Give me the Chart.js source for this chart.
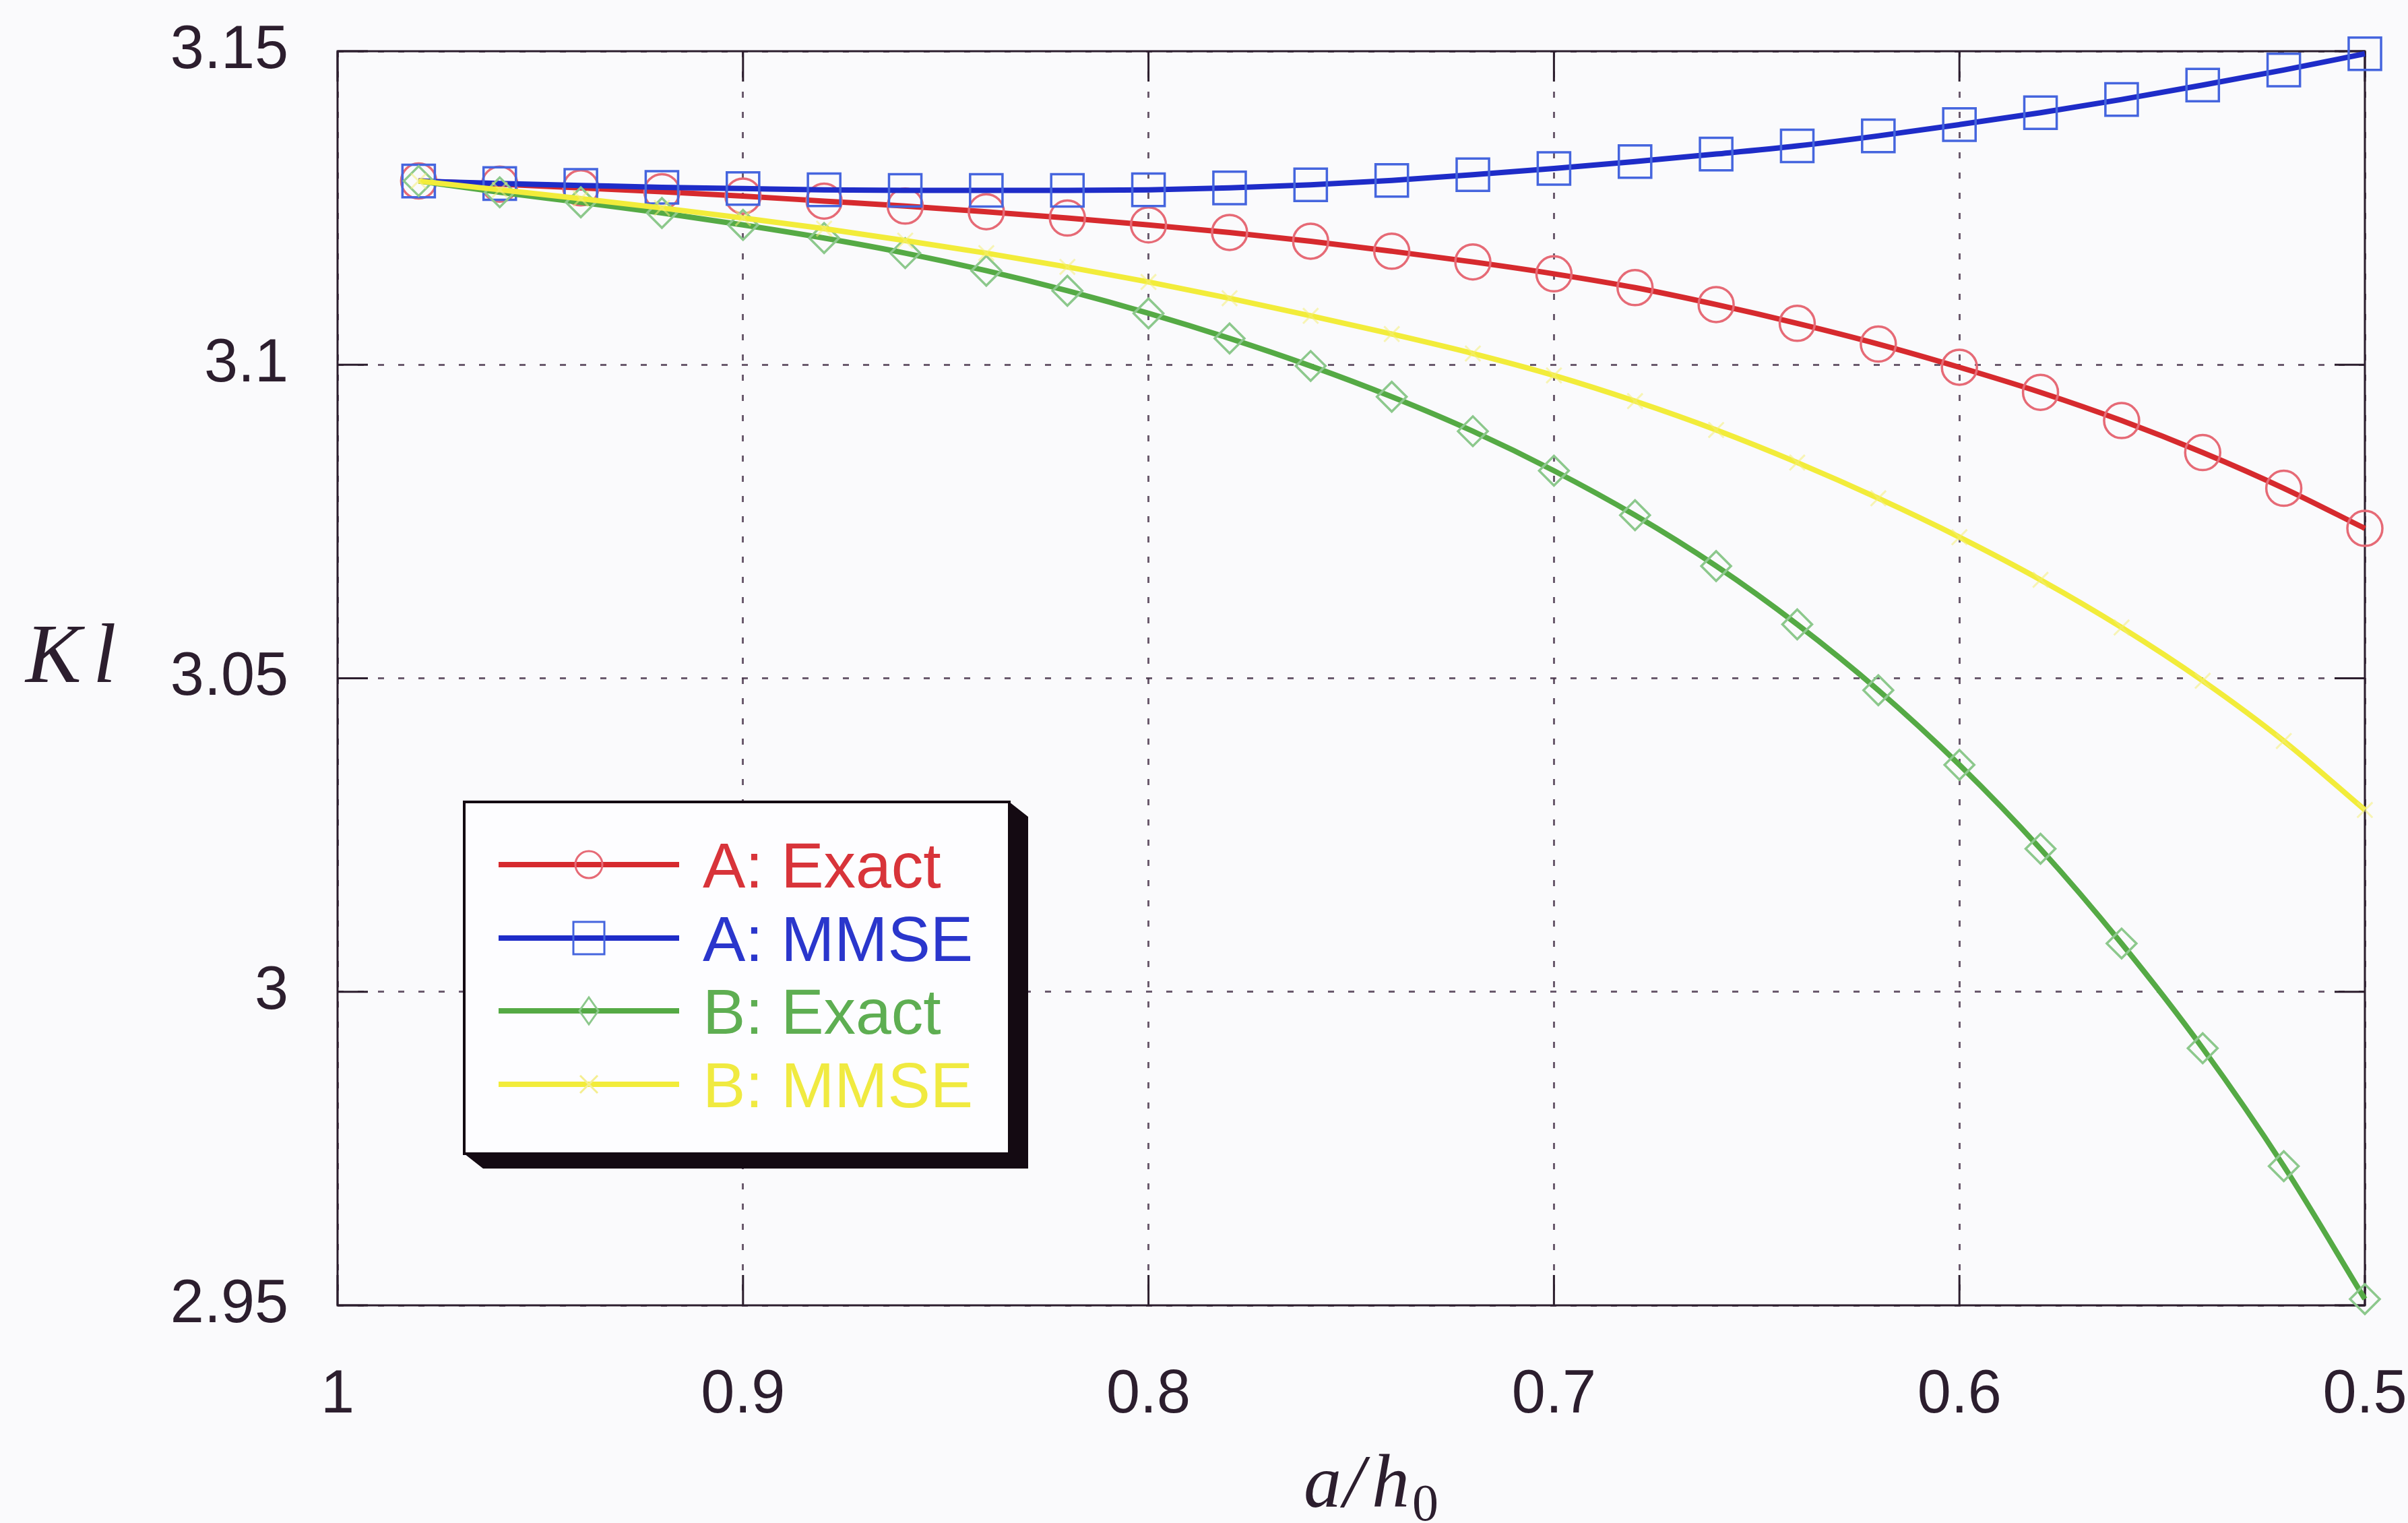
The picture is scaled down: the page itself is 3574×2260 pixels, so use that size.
<!DOCTYPE html>
<html>
<head>
<meta charset="utf-8">
<title>Kl versus a/h0</title>
<script src="https://cdn.jsdelivr.net/npm/chart.js@4.4.1/dist/chart.umd.min.js"></script>
<style>
  html, body { margin: 0; padding: 0; background: #fafafc; overflow: hidden; }
  #wrap { width: 3574px; height: 2260px; position: relative; }
  canvas { display: block; }
</style>
</head>
<body>
<div id="wrap"><canvas id="chart" width="3574" height="2260"></canvas></div>
<script>
// Sample positions of a/h0 (markers every 0.02)
const aOverH0 = [0.98, 0.96, 0.94, 0.92, 0.90, 0.88, 0.86, 0.84, 0.82, 0.80, 0.78, 0.76, 0.74,
                 0.72, 0.70, 0.68, 0.66, 0.64, 0.62, 0.60, 0.58, 0.56, 0.54, 0.52, 0.50];

// Kl for each case
const exactA = [3.1293, 3.1288, 3.1282, 3.1276, 3.1269, 3.1261, 3.1253, 3.1244, 3.1234, 3.1223, 3.1211, 3.1197, 3.1181,
                3.1164, 3.1145, 3.1123, 3.1096, 3.1066, 3.1033, 3.0996, 3.0956, 3.0911, 3.0860, 3.0803, 3.0739];
const mmseA  = [3.1293, 3.1289, 3.1286, 3.1283, 3.1281, 3.1279, 3.1278, 3.1278, 3.1278, 3.1279, 3.1282, 3.1287, 3.1294,
                3.1303, 3.1313, 3.1324, 3.1336, 3.1349, 3.1365, 3.1383, 3.1402, 3.1423, 3.1446, 3.1470, 3.1496];
const exactB = [3.1293, 3.1275, 3.1259, 3.1242, 3.1223, 3.1202, 3.1178, 3.1150, 3.1118, 3.1082, 3.1042, 3.0998, 3.0949,
                3.0894, 3.0831, 3.0760, 3.0679, 3.0586, 3.0481, 3.0362, 3.0228, 3.0077, 2.9910, 2.9722, 2.9510];
const mmseB  = [3.1293, 3.1279, 3.1265, 3.1250, 3.1234, 3.1217, 3.1198, 3.1178, 3.1156, 3.1132, 3.1106, 3.1078, 3.1049,
                3.1018, 3.0983, 3.0942, 3.0896, 3.0844, 3.0787, 3.0725, 3.0657, 3.0581, 3.0496, 3.0400, 3.0290];

const seriesNames = ['A: Exact', 'A: MMSE', 'B: Exact', 'B: MMSE'];

const xTicks = [1, 0.9, 0.8, 0.7, 0.6, 0.5];
const xTickLabels = ['1', '0.9', '0.8', '0.7', '0.6', '0.5'];
const yTicks = [3.15, 3.1, 3.05, 3, 2.95];
const yTickLabels = ['3.15', '3.1', '3.05', '3', '2.95'];

const toPoints = vals => aOverH0.map((a, i) => ({ x: a, y: vals[i] }));

const INK = '#2c1e2e';
const SANS = '"Liberation Sans", Arial, Helvetica, sans-serif';
const SERIF = '"Liberation Serif", "Times New Roman", serif';

// Per-series styling: line colour, marker colour, legend text colour, legend marker shape
const legendStyle = [
  { line: '#d62a2e', mark: '#e66a76', text: '#d8343a', shape: 'circle' },
  { line: '#1e2cc8', mark: '#4565de', text: '#2a36cc', shape: 'square' },
  { line: '#55aa45', mark: '#8cc88c', text: '#5eae52', shape: 'diamond' },
  { line: '#f2ec3a', mark: '#f4ee90', text: '#f0ea40', shape: 'cross' }
];

function drawMarker(ctx, shape, x, y) {
  ctx.beginPath();
  if (shape === 'circle') {
    ctx.arc(x, y, 20, 0, Math.PI * 2);
  } else if (shape === 'square') {
    ctx.rect(x - 23, y - 24, 46, 48);
  } else if (shape === 'diamond') {
    ctx.moveTo(x, y - 20); ctx.lineTo(x + 14, y); ctx.lineTo(x, y + 20); ctx.lineTo(x - 14, y); ctx.closePath();
  } else {
    ctx.moveTo(x - 13, y - 13); ctx.lineTo(x + 13, y + 13);
    ctx.moveTo(x + 13, y - 13); ctx.lineTo(x - 13, y + 13);
  }
  ctx.stroke();
}

// Box frame with inward tick marks on all four sides
const framePlugin = {
  id: 'frame',
  beforeDatasetsDraw(chart) {
    const { ctx, chartArea: a, scales: { x, y } } = chart;
    ctx.save();
    ctx.strokeStyle = INK;
    ctx.lineWidth = 3;
    ctx.strokeRect(a.left, a.top, a.right - a.left, a.bottom - a.top);
    const len = 45;
    ctx.beginPath();
    xTicks.forEach(v => {
      const px = x.getPixelForValue(v);
      ctx.moveTo(px, a.bottom); ctx.lineTo(px, a.bottom - len);
      ctx.moveTo(px, a.top); ctx.lineTo(px, a.top + len);
    });
    yTicks.forEach(v => {
      const py = y.getPixelForValue(v);
      ctx.moveTo(a.left, py); ctx.lineTo(a.left + len, py);
      ctx.moveTo(a.right, py); ctx.lineTo(a.right - len, py);
    });
    ctx.stroke();
    ctx.restore();
  }
};

// Axis titles (math italic) and the shadowed legend box
const annotatePlugin = {
  id: 'annotate',
  afterDraw(chart) {
    const ctx = chart.ctx;
    ctx.save();
    ctx.fillStyle = INK;
    ctx.textBaseline = 'alphabetic';
    ctx.textAlign = 'left';

    // y-axis title: Kl
    ctx.font = 'italic 124px ' + SERIF;
    ctx.fillText('K', 38, 1012);
    ctx.fillText('l', 138, 1012);

    // x-axis title: a/h0
    ctx.font = 'italic 112px ' + SERIF;
    ctx.fillText('a', 1935, 2236);
    ctx.fillText('/', 1994, 2236);
    ctx.fillText('h', 2036, 2236);
    ctx.font = '78px ' + SERIF;
    ctx.fillText('0', 2096, 2256);

    // legend
    const L = 689, T = 1190, R = 1498, B = 1712, sx = 28, sy = 22;
    ctx.fillStyle = '#140a12';
    ctx.beginPath();
    ctx.moveTo(R, T); ctx.lineTo(R + sx, T + sy); ctx.lineTo(R + sx, B + sy);
    ctx.lineTo(L + sx, B + sy); ctx.lineTo(L, B); ctx.lineTo(R, B); ctx.closePath();
    ctx.fill();
    ctx.fillStyle = '#fdfdff';
    ctx.fillRect(L, T, R - L, B - T);
    ctx.strokeStyle = '#140a12';
    ctx.lineWidth = 4;
    ctx.strokeRect(L, T, R - L, B - T);

    const rows = [1283, 1392, 1500, 1609];
    chart.data.datasets.forEach((ds, i) => {
      const st = legendStyle[i];
      const yy = rows[i];
      ctx.strokeStyle = st.line;
      ctx.lineWidth = 8;
      ctx.beginPath(); ctx.moveTo(740, yy); ctx.lineTo(1008, yy); ctx.stroke();
      ctx.strokeStyle = st.mark;
      ctx.lineWidth = 3;
      drawMarker(ctx, st.shape, 874, yy);
      ctx.fillStyle = st.text;
      ctx.font = '95px ' + SANS;
      ctx.fillText(ds.label, 1043, yy + 34);
    });
    ctx.restore();
  }
};

const common = {
  fill: false,
  cubicInterpolationMode: 'monotone',
  borderWidth: 8,
  pointBackgroundColor: 'rgba(0,0,0,0)',
  pointBorderWidth: 3.5,
  pointHoverRadius: 0,
  clip: false
};

new Chart(document.getElementById('chart'), {
  type: 'line',
  data: {
    datasets: [
      Object.assign({}, common, {
        label: seriesNames[0], data: toPoints(exactA), order: 4,
        borderColor: legendStyle[0].line, pointBorderColor: legendStyle[0].mark,
        pointStyle: 'circle', pointRadius: 26
      }),
      Object.assign({}, common, {
        label: seriesNames[1], data: toPoints(mmseA), order: 3,
        borderColor: legendStyle[1].line, pointBorderColor: legendStyle[1].mark,
        pointStyle: 'rect', pointRadius: 34
      }),
      Object.assign({}, common, {
        label: seriesNames[2], data: toPoints(exactB), order: 2,
        borderColor: legendStyle[2].line, pointBorderColor: legendStyle[2].mark,
        pointStyle: 'rectRot', pointRadius: 22
      }),
      Object.assign({}, common, {
        label: seriesNames[3], data: toPoints(mmseB), order: 1,
        borderColor: legendStyle[3].line, pointBorderColor: 'rgba(244,238,120,0.55)',
        pointStyle: 'crossRot', pointRadius: 16, pointBorderWidth: 3
      })
    ]
  },
  options: {
    responsive: false,
    devicePixelRatio: 1,
    animation: false,
    events: [],
    layout: { padding: { top: 76, right: 64, left: 0, bottom: 0 } },
    plugins: { legend: { display: false }, tooltip: { enabled: false } },
    scales: {
      x: {
        type: 'linear',
        min: 0.5, max: 1, reverse: true,
        afterBuildTicks: s => { s.ticks = xTicks.map(v => ({ value: v })); },
        afterFit: s => { s.height = 2260 - 1937; s.paddingLeft = 0; s.paddingRight = 0; },
        ticks: {
          autoSkip: false, maxRotation: 0, padding: 80,
          color: INK, font: { family: SANS, size: 90 },
          callback: v => xTickLabels[xTicks.indexOf(v)]
        },
        grid: { color: 'rgba(70,50,72,0.8)', lineWidth: 3, drawTicks: false },
        border: { display: false, dash: [9, 21] }
      },
      y: {
        type: 'linear',
        min: 2.95, max: 3.15,
        afterBuildTicks: s => { s.ticks = yTicks.map(v => ({ value: v })); },
        afterFit: s => { s.width = 501; s.paddingTop = 0; s.paddingBottom = 0; },
        ticks: {
          autoSkip: false, padding: 73,
          color: INK, font: { family: SANS, size: 90 },
          callback: v => yTickLabels[yTicks.indexOf(v)]
        },
        grid: { color: 'rgba(70,50,72,0.8)', lineWidth: 3, drawTicks: false },
        border: { display: false, dash: [9, 21] }
      }
    }
  },
  plugins: [framePlugin, annotatePlugin]
});
</script>
</body>
</html>
